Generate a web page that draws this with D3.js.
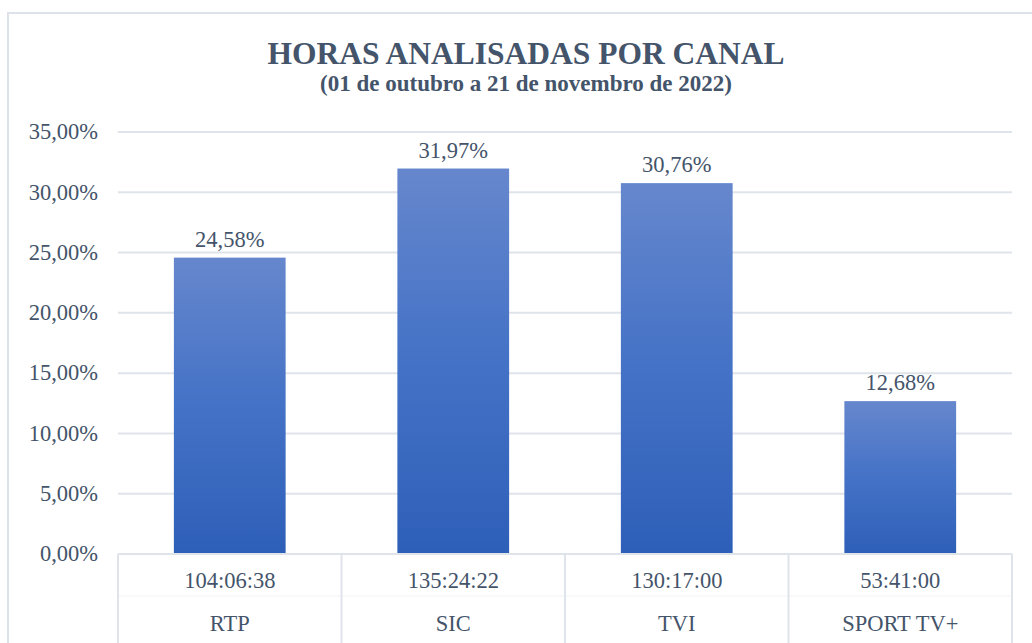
<!DOCTYPE html>
<html>
<head>
<meta charset="utf-8">
<script src="https://cdn.jsdelivr.net/npm/d3@7"></script>
<style>
	body { margin: 0; background: #fff; }
	svg { display: block; }
</style>
</head>
<body>
<div id="chart"></div>
<script>
var svgWidth = 1032;
var svgHeight = 643;

// dados
var canais = ["RTP", "SIC", "TVI", "SPORT TV+"];
var horas = ["104:06:38", "135:24:22", "130:17:00", "53:41:00"];
var percentagens = [24.58, 31.97, 30.76, 12.68];
var ticksY = [0, 5, 10, 15, 20, 25, 30, 35];

var corTexto = "#44546a";
var corGrelha = "#dfe3ea";
var fonte = "'Liberation Serif', 'Times New Roman', Times, serif";
var tamanho = "22.5px";

var margin = {top: 132, left: 118};
var plotRight = 1012;
var plotBottom = 554;

var svg = d3.select("#chart")
	.append("svg")
	.attr("width", svgWidth)
	.attr("height", svgHeight)
	.attr("font-family", fonte);

var defs = svg.append("defs");
var grad = defs.append("linearGradient")
	.attr("id", "barra")
	.attr("x1", 0).attr("y1", 0)
	.attr("x2", 0).attr("y2", 1);
grad.append("stop").attr("offset", "0%").attr("stop-color", "#6687cd");
grad.append("stop").attr("offset", "50%").attr("stop-color", "#4472c6");
grad.append("stop").attr("offset", "100%").attr("stop-color", "#2e5fb8");

// moldura
svg.append("rect")
	.attr("x", 8)
	.attr("y", 13)
	.attr("width", svgWidth + 20)
	.attr("height", svgHeight + 20)
	.attr("fill", "#fff")
	.attr("stroke", "#dde1e9")
	.attr("stroke-width", 2);

// titulo
svg.append("text")
	.attr("x", 526)
	.attr("y", 64)
	.attr("text-anchor", "middle")
	.attr("fill", corTexto)
	.attr("font-weight", "bold")
	.attr("font-size", "31.5px")
	.text("HORAS ANALISADAS POR CANAL");

svg.append("text")
	.attr("x", 526)
	.attr("y", 91)
	.attr("text-anchor", "middle")
	.attr("fill", corTexto)
	.attr("font-weight", "bold")
	.attr("font-size", "23px")
	.text("(01 de outubro a 21 de novembro de 2022)");

var x = d3.scaleBand()
	.domain(canais)
	.range([margin.left, plotRight])
	.paddingInner(0.5)
	.paddingOuter(0.25);

var y = d3.scaleLinear()
	.domain([0, 35])
	.range([plotBottom, margin.top]);

// grelha
svg.append("g")
	.selectAll("line")
	.data(ticksY)
	.enter().append("line")
	.attr("x1", margin.left)
	.attr("x2", plotRight)
	.attr("y1", function(d) { return y(d); })
	.attr("y2", function(d) { return y(d); })
	.attr("stroke", corGrelha)
	.attr("stroke-width", 2);

// eixo y
var eixoY = svg.append("g")
	.attr("transform", "translate(" + margin.left + ",0)")
	.call(d3.axisLeft(y)
		.tickValues(ticksY)
		.tickSize(0)
		.tickPadding(20)
		.tickFormat(function(d) { return d.toFixed(2).replace(".", ",") + "%"; }));
eixoY.attr("font-family", fonte).attr("font-size", tamanho);
eixoY.select(".domain").remove();
eixoY.selectAll("text")
	.attr("fill", corTexto)
	.attr("dy", "0.3em");

// barras
svg.append("g")
	.selectAll("rect")
	.data(canais)
	.enter().append("rect")
	.attr("x", function(d) { return x(d); })
	.attr("y", function(d, i) { return y(percentagens[i]); })
	.attr("width", x.bandwidth())
	.attr("height", function(d, i) { return y(0) - y(percentagens[i]); })
	.attr("fill", "url(#barra)");

// rotulos das barras
svg.append("g")
	.selectAll("text")
	.data(canais)
	.enter().append("text")
	.attr("x", function(d) { return x(d) + x.bandwidth() / 2; })
	.attr("y", function(d, i) { return y(percentagens[i]) - 11; })
	.attr("text-anchor", "middle")
	.attr("fill", corTexto)
	.attr("font-size", tamanho)
	.text(function(d, i) { return percentagens[i].toFixed(2).replace(".", ",") + "%"; });

// tabela do eixo x
var folga = (x.step() - x.bandwidth()) / 2;
var limites = canais.map(function(d) { return x(d) - folga; });
limites.push(plotRight);

svg.append("line")
	.attr("x1", margin.left)
	.attr("x2", plotRight)
	.attr("y1", 596)
	.attr("y2", 596)
	.attr("stroke", "#f1f3f6")
	.attr("stroke-width", 1);

svg.append("g")
	.selectAll("line")
	.data(limites)
	.enter().append("line")
	.attr("x1", function(d) { return d; })
	.attr("x2", function(d) { return d; })
	.attr("y1", plotBottom)
	.attr("y2", svgHeight)
	.attr("stroke", corGrelha)
	.attr("stroke-width", 2);

svg.append("line")
	.attr("x1", margin.left)
	.attr("x2", plotRight)
	.attr("y1", plotBottom)
	.attr("y2", plotBottom)
	.attr("stroke", corGrelha)
	.attr("stroke-width", 2);

var cat = svg.append("g")
	.selectAll("g")
	.data(canais)
	.enter().append("g")
	.attr("transform", function(d) { return "translate(" + (x(d) + x.bandwidth() / 2) + ",0)"; });

cat.append("text")
	.attr("y", 588)
	.attr("text-anchor", "middle")
	.attr("fill", corTexto)
	.attr("font-size", tamanho)
	.text(function(d, i) { return horas[i]; });

cat.append("text")
	.attr("y", 631)
	.attr("text-anchor", "middle")
	.attr("fill", corTexto)
	.attr("font-size", tamanho)
	.text(function(d) { return d; });
</script>
</body>
</html>
